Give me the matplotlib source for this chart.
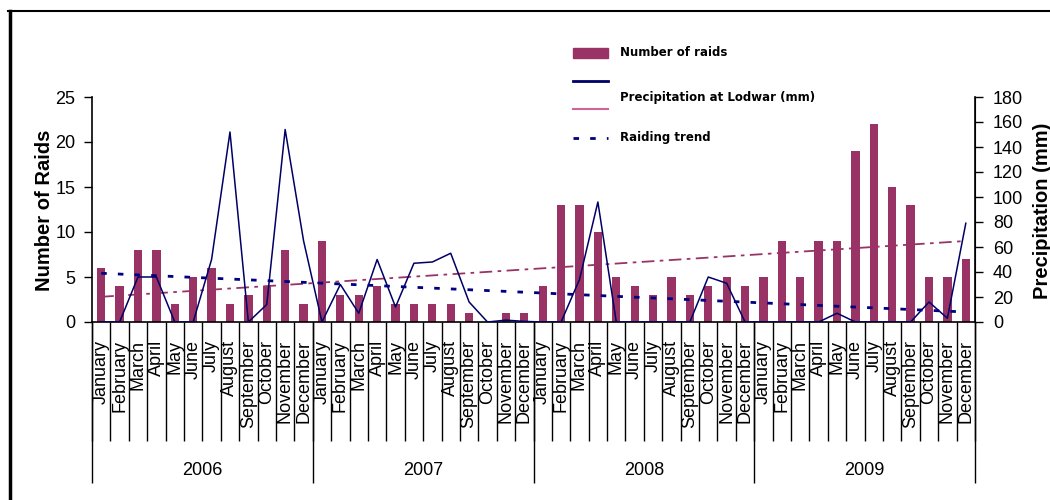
import numpy as np
import matplotlib
matplotlib.use('Agg')
import matplotlib.pyplot as plt
import matplotlib.lines as mlines
import matplotlib.patches as mpatches

# data
years = ['2006', '2007', '2008', '2009']
months = ['January', 'February', 'March', 'April', 'May', 'June', 'July',
          'August', 'September', 'October', 'November', 'December']

raids_2006 = [6, 4, 8, 8, 2, 5, 6, 2, 3, 4, 8, 2]
raids_2007 = [9, 3, 3, 4, 2, 2, 2, 2, 1, 0, 1, 1]
raids_2008 = [4, 13, 13, 10, 5, 4, 3, 5, 3, 4, 5, 4]
raids_2009 = [5, 9, 5, 9, 9, 19, 22, 15, 13, 5, 5, 7]

rain_2006 = [0, 0, 36, 36, 0, 0, 50, 152, 0, 14, 154, 65]
rain_2007 = [0, 30, 7, 50, 12, 47, 48, 55, 16, 0, 1.5, 0.5]
rain_2008 = [0, 0, 34, 96, 0, 0, 0, 0, 0, 36, 31, 0]
rain_2009 = [0, 0, 0, 0, 7, 0, 0, 0, 0, 16, 3, 79]

# linear trend lines, start (Jan 2006) and end (Dec 2009) values
raid_trend = [2.8, 9.0]      # raids, left axis
rain_trend = [39, 8]         # mm, right axis

BAR = '#993366'
NAVY = '#000066'

raids = raids_2006 + raids_2007 + raids_2008 + raids_2009
rain = rain_2006 + rain_2007 + rain_2008 + rain_2009
labels = months * len(years)
x = np.arange(len(raids))

fig = plt.figure(figsize=(10.5, 5), dpi=100)
ax = fig.add_axes([92 / 1050, 1 - 322 / 500, 883 / 1050, 225 / 500])
ax2 = ax.twinx()

ax.bar(x, raids, width=0.45, color=BAR, zorder=2)
ax.plot([x[0], x[-1]], raid_trend, color=BAR, lw=1.3,
        linestyle=(0, (7, 3, 2, 3)), zorder=3)
ax2.plot(x, rain, color=NAVY, lw=1.1)
ax2.plot([x[0], x[-1]], rain_trend, color='#000080', lw=2,
         linestyle=(0, (2, 4)))

ax.set_xlim(-0.5, len(x) - 0.5)
ax.set_ylim(0, 25)
ax2.set_ylim(0, 180)
ax.set_yticks(np.arange(0, 26, 5))
ax2.set_yticks(np.arange(0, 181, 20))

tick_font = {'family': 'Liberation Sans', 'size': 13}
ax.set_yticklabels([str(v) for v in range(0, 26, 5)], fontdict=tick_font)
ax2.set_yticklabels([str(v) for v in range(0, 181, 20)], fontdict=tick_font)
ax.tick_params(axis='y', direction='out', length=6, width=1, pad=6)
ax2.tick_params(axis='y', direction='out', length=6, width=1, pad=7)

ax.set_xticks(x)
ax.set_xticklabels(labels, rotation=90, family='Liberation Sans', fontsize=13)
ax.tick_params(axis='x', length=0, pad=13)

for a in (ax, ax2):
    a.spines['top'].set_visible(False)
ax2.spines['left'].set_visible(False)
ax2.spines['bottom'].set_visible(False)
for s in ('left', 'bottom'):
    ax.spines[s].set_linewidth(1.2)
ax2.spines['right'].set_linewidth(1.2)

# category separators below the axis
xt = ax.get_xaxis_transform()
ax.vlines(np.arange(-0.5, len(x)), -0.53, 0, transform=xt, color='black',
          lw=1, clip_on=False)
ax.vlines(np.arange(-0.5, len(x) + 1, 12), -0.716, 0, transform=xt,
          color='black', lw=1, clip_on=False)
for i, yr in enumerate(years):
    ax.text(i * 12 + 5.5, -0.658, yr, transform=xt, ha='center', va='center',
            family='Liberation Sans', fontsize=13)

fig.text(45 / 1050, 1 - 210 / 500, 'Number of Raids', rotation=90,
         ha='center', va='center', family='Liberation Sans',
         fontweight='bold', fontsize=14.5)
fig.text(1042 / 1050, 1 - 211 / 500, 'Precipitation (mm)', rotation=90,
         ha='center', va='center', family='Liberation Sans',
         fontweight='bold', fontsize=14.5)

# legend, laid out as in the reference
tf = fig.transFigure
x0, x1, xt0 = 573 / 1050, 608 / 1050, 620 / 1050
fig.add_artist(mpatches.Rectangle((x0, 1 - 58 / 500), x1 - x0, 10 / 500,
                                  color=BAR, transform=tf))
fig.add_artist(mlines.Line2D([x0, x1], [1 - 81 / 500] * 2, color=NAVY,
                             lw=2, transform=tf))
fig.add_artist(mlines.Line2D([x0, x1], [1 - 109 / 500] * 2, color='#cc6699',
                             lw=1.5, transform=tf))
fig.add_artist(mlines.Line2D([x0, x1], [1 - 138 / 500] * 2, color='#000080',
                             lw=2, linestyle=(0, (2, 4)), transform=tf))
leg_font = dict(family='DejaVu Sans', fontweight='bold', fontsize=8.5,
                va='center', ha='left')
fig.text(xt0, 1 - 52 / 500, 'Number of raids', **leg_font)
fig.text(xt0, 1 - 97 / 500, 'Precipitation at Lodwar (mm)', **leg_font)
fig.text(xt0, 1 - 138 / 500, 'Raiding trend', **leg_font)

# frame lines at the top and left of the picture
fig.add_artist(mlines.Line2D([8 / 1050, 1], [1 - 11 / 500] * 2,
                             color='black', lw=1.5, transform=tf))
fig.add_artist(mlines.Line2D([10 / 1050] * 2, [0, 1 - 11 / 500],
                             color='black', lw=2.5, transform=tf))

fig.savefig('out.png', dpi=100)
